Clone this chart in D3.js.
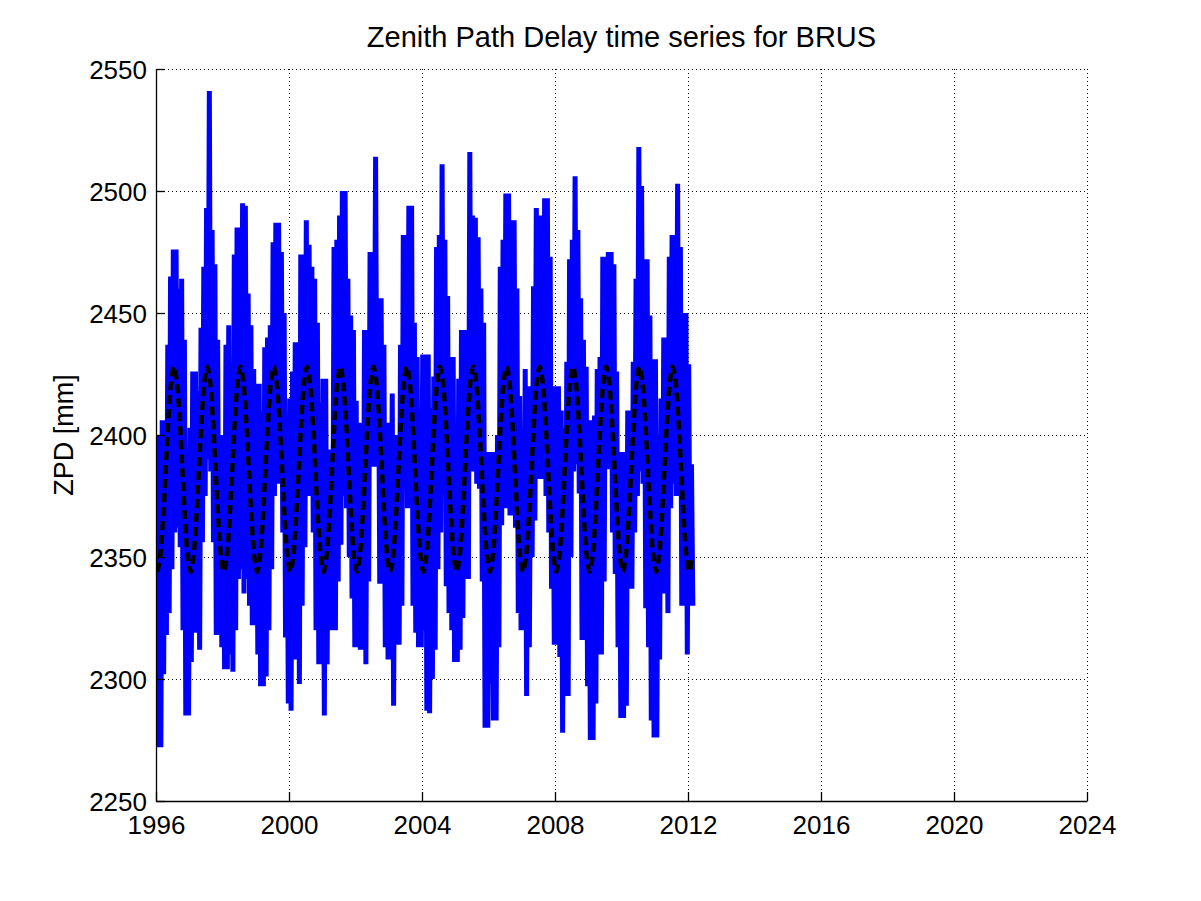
<!DOCTYPE html>
<html>
<head>
<meta charset="utf-8">
<script src="https://cdn.jsdelivr.net/npm/d3@7"></script>
<style>
  html, body { margin: 0; padding: 0; background: #ffffff; }
  svg { display: block; }
  text { font-family: "Liberation Sans", Arial, Helvetica, sans-serif; fill: #000; }
</style>
</head>
<body>
<svg id="chart" width="1201" height="901"></svg>
<script>
// ---------------- DATA ----------------
const chartTitle = "Zenith Path Delay time series for BRUS";
const yAxisLabel = "ZPD [mm]";
const startYear = 1996;          // first month of the series (January 1996)
const xTickYears = [1996, 2000, 2004, 2008, 2012, 2016, 2020, 2024];
const yTickValues = [2250, 2300, 2350, 2400, 2450, 2500, 2550];

// Monthly upper envelope of the ZPD series [mm], one row per year
const zpdHigh = [
  2400, 2400, 2406, 2406, 2437, 2465, 2476, 2476, 2460, 2464, 2439, 2393, // 1996
  2403, 2426, 2426, 2418, 2444, 2469, 2493, 2541, 2484, 2470, 2439, 2400, // 1997
  2400, 2437, 2445, 2419, 2474, 2485, 2485, 2495, 2494, 2458, 2445, 2427, // 1998
  2421, 2421, 2410, 2436, 2440, 2445, 2479, 2487, 2487, 2475, 2450, 2403, // 1999
  2415, 2426, 2438, 2438, 2474, 2474, 2488, 2478, 2469, 2464, 2446, 2413, // 2000
  2423, 2423, 2394, 2394, 2477, 2480, 2490, 2500, 2500, 2464, 2449, 2443, // 2001
  2414, 2405, 2405, 2443, 2443, 2475, 2475, 2514, 2456, 2456, 2437, 2405, // 2002
  2405, 2417, 2400, 2400, 2437, 2482, 2482, 2494, 2494, 2446, 2432, 2403, // 2003
  2433, 2433, 2433, 2411, 2424, 2477, 2482, 2511, 2480, 2457, 2432, 2432, // 2004
  2401, 2423, 2443, 2443, 2443, 2516, 2490, 2489, 2481, 2460, 2446, 2393, // 2005
  2393, 2393, 2393, 2400, 2469, 2480, 2499, 2499, 2488, 2488, 2460, 2416, // 2006
  2396, 2427, 2420, 2420, 2461, 2493, 2490, 2490, 2497, 2497, 2473, 2408, // 2007
  2420, 2420, 2410, 2403, 2430, 2472, 2480, 2506, 2484, 2456, 2439, 2428, // 2008
  2406, 2406, 2408, 2427, 2432, 2473, 2473, 2475, 2475, 2470, 2426, 2393, // 2009
  2393, 2393, 2410, 2410, 2430, 2464, 2518, 2502, 2472, 2472, 2449, 2431, // 2010
  2431, 2400, 2415, 2440, 2440, 2473, 2482, 2482, 2503, 2477, 2450, 2450, // 2011
  2429, 2388                                                              // 2012
];

// Monthly lower envelope of the ZPD series [mm], one row per year
const zpdLow = [
  2272, 2272, 2302, 2318, 2327, 2345, 2360, 2362, 2354, 2320, 2285, 2285, // 1996
  2307, 2319, 2319, 2312, 2356, 2375, 2390, 2385, 2356, 2318, 2318, 2313, // 1997
  2304, 2304, 2310, 2303, 2320, 2341, 2345, 2335, 2341, 2330, 2322, 2322, // 1998
  2310, 2297, 2297, 2301, 2320, 2345, 2375, 2380, 2380, 2360, 2317, 2290, // 1999
  2287, 2308, 2308, 2298, 2330, 2354, 2375, 2375, 2360, 2320, 2306, 2306, // 2000
  2285, 2306, 2320, 2320, 2320, 2340, 2355, 2375, 2370, 2350, 2333, 2313, // 2001
  2313, 2312, 2312, 2306, 2340, 2387, 2387, 2387, 2339, 2339, 2313, 2308, // 2002
  2308, 2289, 2314, 2314, 2330, 2385, 2370, 2370, 2330, 2319, 2313, 2313, // 2003
  2320, 2287, 2286, 2300, 2312, 2345, 2360, 2375, 2338, 2327, 2320, 2307, // 2004
  2307, 2312, 2325, 2341, 2341, 2385, 2385, 2380, 2378, 2340, 2280, 2280, // 2005
  2298, 2283, 2283, 2313, 2363, 2370, 2370, 2367, 2367, 2362, 2327, 2320, // 2006
  2320, 2293, 2313, 2350, 2365, 2382, 2382, 2382, 2375, 2360, 2337, 2314, // 2007
  2314, 2309, 2278, 2293, 2293, 2350, 2385, 2388, 2376, 2316, 2316, 2297, // 2008
  2275, 2275, 2290, 2310, 2310, 2340, 2386, 2386, 2360, 2343, 2313, 2284, // 2009
  2284, 2289, 2337, 2337, 2360, 2375, 2385, 2380, 2329, 2313, 2283, 2276, // 2010
  2276, 2308, 2335, 2335, 2327, 2370, 2380, 2375, 2375, 2330, 2330, 2310, // 2011
  2330, 2330                                                              // 2012
];

// Seasonal fit (black dashed curve), value at the middle of each month [mm]
const fitSeason = [2344, 2350, 2365, 2386, 2407, 2422, 2428, 2422, 2407, 2386, 2365, 2350];

// ---------------- DRAWING ----------------
const svg = d3.select("#chart");
const W = 1201, H = 901;
svg.append("rect").attr("width", W).attr("height", H).attr("fill", "#ffffff");

const plot = { left: 156, right: 1087, top: 69, bottom: 801 };

const x = d3.scaleLinear().domain([1996, 2024]).range([plot.left, plot.right]);
const y = d3.scaleLinear().domain([2250, 2550]).range([plot.bottom, plot.top]);

svg.append("defs").append("clipPath").attr("id", "clip")
  .append("rect")
  .attr("x", plot.left).attr("y", plot.top)
  .attr("width", plot.right - plot.left).attr("height", plot.bottom - plot.top);

// grid (dotted)
const grid = svg.append("g");
xTickYears.filter(v => v !== 1996).forEach(v => {
  grid.append("line")
    .attr("x1", x(v)).attr("x2", x(v))
    .attr("y1", plot.top).attr("y2", plot.bottom)
    .attr("stroke", "#000").attr("stroke-width", 1)
    .attr("stroke-dasharray", "1,3")
    .attr("shape-rendering", "crispEdges");
});
yTickValues.filter(v => v !== 2250).forEach(v => {
  grid.append("line")
    .attr("x1", plot.left).attr("x2", plot.right)
    .attr("y1", y(v)).attr("y2", y(v))
    .attr("stroke", "#000").attr("stroke-width", 1)
    .attr("stroke-dasharray", "1,3")
    .attr("shape-rendering", "crispEdges");
});

// blue series: zig-zag between monthly upper and lower envelope
const seriesPts = [];
zpdHigh.forEach((hi, k) => {
  seriesPts.push([startYear + (k + 0.25) / 12, hi]);
  seriesPts.push([startYear + (k + 0.75) / 12, zpdLow[k]]);
});
const lineGen = d3.line().x(d => x(d[0])).y(d => y(d[1]));
svg.append("path")
  .attr("clip-path", "url(#clip)")
  .attr("d", lineGen(seriesPts))
  .attr("fill", "none")
  .attr("stroke", "#0000ff")
  .attr("stroke-width", 5)
  .attr("stroke-linejoin", "miter")
  .attr("stroke-linecap", "butt");

// black dashed seasonal fit
const fitPts = zpdHigh.map((_, k) => [startYear + (k + 0.5) / 12, fitSeason[k % 12]]);
const fitGen = d3.line().x(d => x(d[0])).y(d => y(d[1])).curve(d3.curveCatmullRom);
svg.append("path")
  .attr("clip-path", "url(#clip)")
  .attr("d", fitGen(fitPts))
  .attr("fill", "none")
  .attr("stroke", "#000")
  .attr("stroke-width", 4.5)
  .attr("stroke-dasharray", "9,5");

// axes (left and bottom, ticks pointing inward)
const axX = svg.append("g").attr("transform", `translate(0,${plot.bottom})`)
  .call(d3.axisBottom(x).tickValues(xTickYears).tickFormat(d3.format("d"))
        .tickSizeInner(-9).tickSizeOuter(0).tickPadding(22));
const axY = svg.append("g").attr("transform", `translate(${plot.left},0)`)
  .call(d3.axisLeft(y).tickValues(yTickValues).tickFormat(d3.format("d"))
        .tickSizeInner(-9).tickSizeOuter(0).tickPadding(17));
[axX, axY].forEach(ax => {
  ax.select(".domain").attr("stroke", "#000").attr("stroke-width", 1.3);
  ax.selectAll(".tick line").attr("stroke", "#000").attr("stroke-width", 1.3);
  ax.selectAll(".tick text")
    .attr("font-family", '"Liberation Sans", Arial, Helvetica, sans-serif')
    .attr("font-size", 26).attr("fill", "#000");
});
axX.selectAll(".tick text").attr("dy", "0.72em").attr("y", 14);
axY.selectAll(".tick text").attr("dy", "0.36em").attr("x", -9);

// title
svg.append("text")
  .attr("x", (plot.left + plot.right) / 2).attr("y", 47)
  .attr("text-anchor", "middle")
  .attr("font-size", 29)
  .text(chartTitle);

// y-axis label
svg.append("text")
  .attr("transform", `translate(73,${(plot.top + plot.bottom) / 2}) rotate(-90)`)
  .attr("text-anchor", "middle")
  .attr("font-size", 27)
  .text(yAxisLabel);
</script>
</body>
</html>
